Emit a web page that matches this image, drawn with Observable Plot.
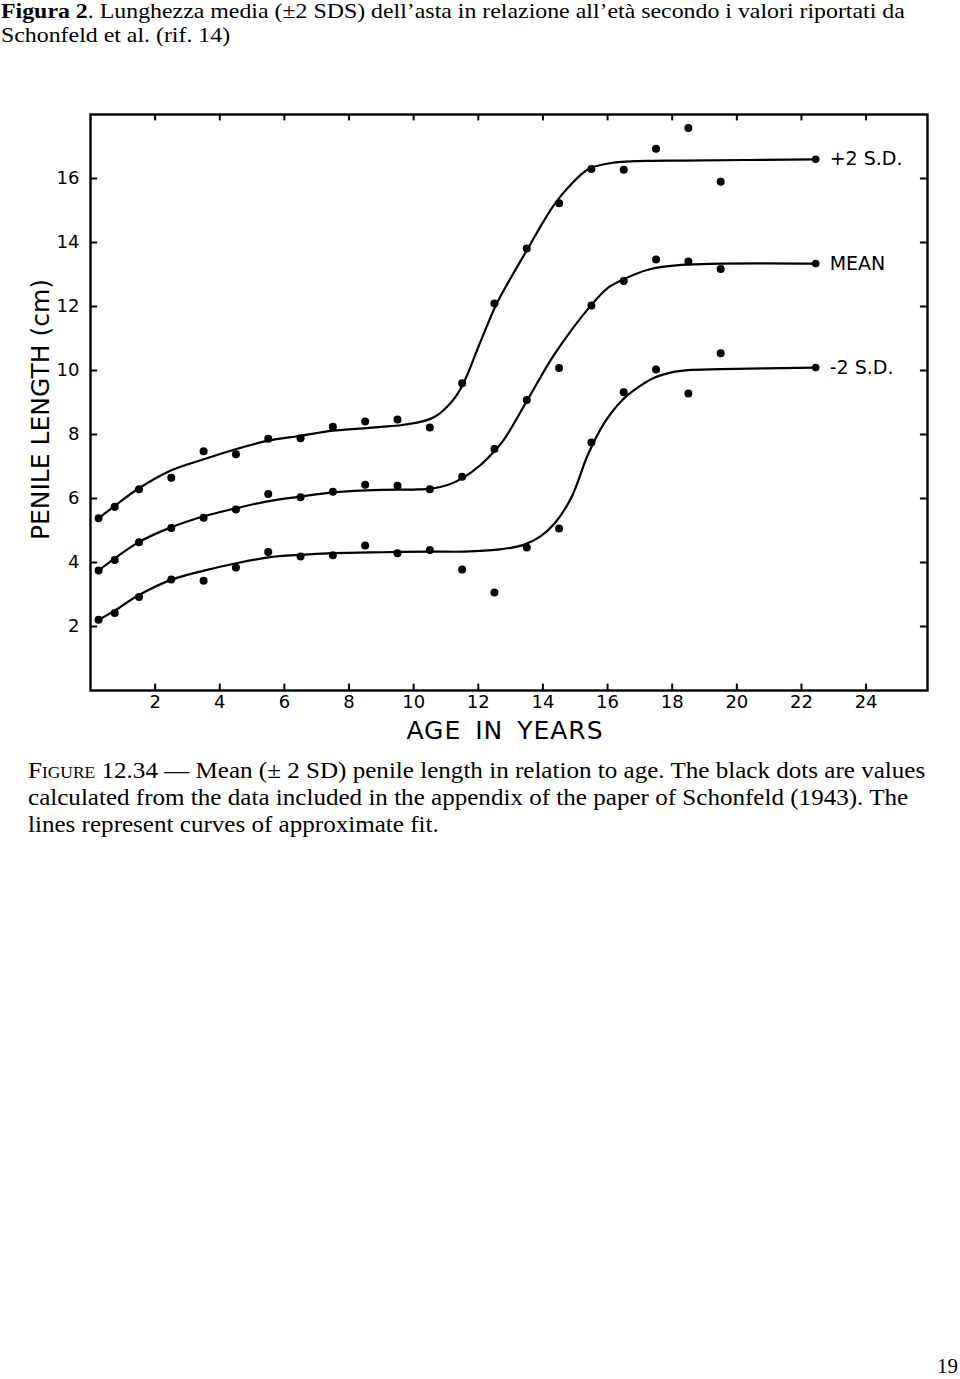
<!DOCTYPE html>
<html>
<head>
<meta charset="utf-8">
<script src="https://cdn.jsdelivr.net/npm/d3@7"></script>
<script src="https://cdn.jsdelivr.net/npm/@observablehq/plot@0.6"></script>
<style>
  html, body { margin: 0; padding: 0; background: #fff; }
  body { width: 960px; height: 1379px; position: relative; overflow: hidden; color: #000; }
  #title { position: absolute; left: 1px; top: -1px; font-family: "Liberation Serif", serif; font-size: 22px; line-height: 24px; white-space: nowrap; transform-origin: 0 0; transform: scaleX(1.084); }
  #chart { position: absolute; left: 0; top: 60px; }
  #caption { position: absolute; left: 28px; top: 757px; font-family: "Liberation Serif", serif; font-size: 23px; line-height: 27px; transform-origin: 0 0; transform: scaleX(1.09); }
  #caption .l { white-space: nowrap; display: block; }
  .sc { font-variant: small-caps; }
  #page { position: absolute; left: 937px; top: 1354px; font-family: "Liberation Serif", serif; font-size: 21px; }
</style>
</head>
<body>
<div id="title"><b>Figura 2</b>. Lunghezza media (±2 SDS) dell’asta in relazione all’età secondo i valori riportati da<br>Schonfeld et al. (rif. 14)</div>
<div id="chart"></div>
<div id="caption">
  <span class="l"><span class="sc">Figure</span> 12.34 — Mean (± 2 SD) penile length in relation to age. The black dots are values</span>
  <span class="l">calculated from the data included in the appendix of the paper of Schonfeld (1943). The</span>
  <span class="l">lines represent curves of approximate fit.</span>
</div>
<div id="page">19</div>
<script>
// ---- data ----
const ages = [0.25, 0.75, 1.5, 2.5, 3.5, 4.5, 5.5, 6.5, 7.5, 8.5, 9.5, 10.5, 11.5, 12.5, 13.5, 14.5, 15.5, 16.5, 17.5, 18.5, 19.5];
const plus2SD = [5.38, 5.74, 6.29, 6.65, 7.48, 7.38, 7.87, 7.88, 8.24, 8.41, 8.47, 8.22, 9.60, 12.09, 13.81, 15.23, 16.30, 16.27, 16.93, 17.58, 15.90];
const meanVals = [3.75, 4.08, 4.63, 5.08, 5.40, 5.66, 6.14, 6.04, 6.21, 6.43, 6.40, 6.29, 6.68, 7.55, 9.08, 10.08, 12.03, 12.80, 13.47, 13.41, 13.17];
const minus2SD = [2.21, 2.42, 2.92, 3.47, 3.43, 3.84, 4.33, 4.19, 4.23, 4.53, 4.29, 4.39, 3.78, 3.06, 4.47, 5.06, 7.75, 9.32, 10.03, 9.28, 10.54];

// fitted curves (knots)
const plusCurveX = [0.25, 0.75, 1.5, 2.47, 3.46, 4.49, 5.47, 6.5, 7.5, 8.52, 9.0, 9.6, 10.1, 10.5, 10.8, 11.05, 11.3, 11.55, 12.04, 12.56, 13.07, 13.54, 14.0, 14.36, 14.78, 15.4, 16.02, 16.43, 17.25, 18.3, 22.44];
const plusCurveY = [5.38, 5.77, 6.32, 6.87, 7.21, 7.54, 7.80, 7.96, 8.12, 8.20, 8.24, 8.29, 8.37, 8.48, 8.65, 8.88, 9.18, 9.62, 10.83, 12.07, 13.01, 13.82, 14.63, 15.20, 15.72, 16.29, 16.47, 16.52, 16.55, 16.56, 16.60];
const meanCurveX = [0.25, 0.74, 1.48, 2.47, 3.46, 4.49, 5.47, 6.5, 7.51, 9.0, 10.0, 10.55, 11.05, 11.55, 12.05, 12.55, 12.81, 13.54, 14.36, 15.5, 16.02, 16.43, 17.25, 18.28, 22.44];
const meanCurveY = [3.75, 4.12, 4.63, 5.09, 5.43, 5.69, 5.91, 6.06, 6.19, 6.27, 6.28, 6.31, 6.42, 6.66, 7.03, 7.54, 7.86, 9.11, 10.51, 12.05, 12.59, 12.82, 13.15, 13.30, 13.34];
const minusCurveX = [0.25, 0.74, 1.46, 2.47, 3.48, 4.48, 5.51, 6.5, 7.51, 9.0, 10.55, 11.58, 12.6, 13.4, 13.9, 14.36, 14.88, 15.4, 15.91, 16.43, 16.94, 17.46, 17.98, 18.49, 19.52, 22.44];
const minusCurveY = [2.21, 2.49, 2.96, 3.45, 3.74, 3.97, 4.16, 4.24, 4.29, 4.32, 4.34, 4.34, 4.40, 4.55, 4.80, 5.22, 6.03, 7.39, 8.38, 9.05, 9.47, 9.78, 9.94, 10.01, 10.04, 10.09];

const curveLabels = ["+2 S.D.", "MEAN", "-2 S.D."];
const xTicks = [2, 4, 6, 8, 10, 12, 14, 16, 18, 20, 22, 24];
const yTicks = [2, 4, 6, 8, 10, 12, 14, 16];
const xLabel = "AGE IN YEARS";
const yLabel = "PENILE LENGTH (cm)";

// ---- tables built from the arrays ----
const dotRows = [];
[plus2SD, meanVals, minus2SD].forEach((vals, s) => vals.forEach((v, i) => dotRows.push({age: ages[i], len: v, s})));
const curveRows = [];
[[plusCurveX, plusCurveY], [meanCurveX, meanCurveY], [minusCurveX, minusCurveY]].forEach(([xs, ys], s) =>
  xs.forEach((x, i) => curveRows.push({age: x, len: ys[i], s})));
const ends = [[plusCurveX, plusCurveY], [meanCurveX, meanCurveY], [minusCurveX, minusCurveY]].map(([xs, ys], s) =>
  ({age: xs[xs.length - 1], len: ys[ys.length - 1], label: curveLabels[s]}));

const XMAX = 25.9, YMAX = 18;
const font = "'DejaVu Sans', sans-serif";

const chart = Plot.plot({
  width: 960,
  height: 700,
  marginLeft: 90,
  marginRight: 33,
  marginTop: 54,
  marginBottom: 70,
  style: {fontFamily: font, color: "#000", background: "transparent"},
  x: {domain: [0, XMAX]},
  y: {domain: [0, YMAX]},
  marks: [
    Plot.frame({stroke: "#000", strokeWidth: 2.4}),
    // inward ticks on all four sides
    Plot.ruleX(xTicks, {x: d => d, y1: 0, y2: 0.2, stroke: "#000", strokeWidth: 2}),
    Plot.ruleX(xTicks, {x: d => d, y1: YMAX, y2: YMAX - 0.2, stroke: "#000", strokeWidth: 2}),
    Plot.ruleY(yTicks, {y: d => d, x1: 0, x2: 0.22, stroke: "#000", strokeWidth: 2}),
    Plot.ruleY(yTicks, {y: d => d, x1: XMAX, x2: XMAX - 0.22, stroke: "#000", strokeWidth: 2}),
    Plot.axisX({ticks: xTicks, tickSize: 0, tickPadding: 5, fontSize: 18, label: null}),
    Plot.axisY({ticks: yTicks, tickSize: 0, tickPadding: 11, fontSize: 18, label: null}),
    Plot.text([xLabel], {frameAnchor: "bottom", dy: 48, dx: -4, fontSize: 25, fill: "#000"}),
    Plot.text([yLabel], {frameAnchor: "left", textAnchor: "middle", rotate: -90, dx: -50, dy: 7, fontSize: 25, fill: "#000"}),
    Plot.line(curveRows, {x: "age", y: "len", z: "s", curve: "catmull-rom", stroke: "#000", strokeWidth: 2.2}),
    Plot.dot(dotRows, {x: "age", y: "len", r: 4, fill: "#000"}),
    Plot.dot(ends, {x: "age", y: "len", r: 3.8, fill: "#000"}),
    Plot.text(ends, {x: "age", y: "len", text: "label", dx: 14, textAnchor: "start", fontSize: 19, fill: "#000"})
  ]
});
d3.select(chart).selectAll("text")
  .filter(function () { return this.textContent === xLabel; })
  .style("letter-spacing", "1px")
  .style("word-spacing", "5px");
document.getElementById("chart").appendChild(chart);
</script>
</body>
</html>
